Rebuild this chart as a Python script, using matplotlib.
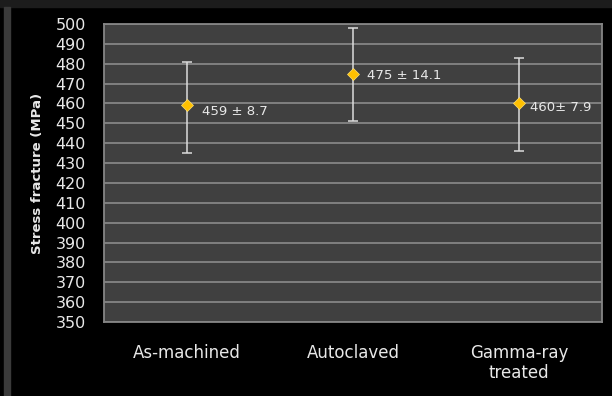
import numpy as np
import matplotlib.pyplot as plt
from matplotlib.patches import Rectangle

categories = ['As-machined', 'Autoclaved', 'Gamma-ray\ntreated']
means = [459, 475, 460]
err_low = [435, 451, 436]
err_high = [481, 498, 483]
labels = ['459 ± 8.7', '475 ± 14.1', '460± 7.9']
yticks = list(range(350, 501, 10))

txt = '#e8e8e8'
plt.rcParams['font.family'] = ['DejaVu Sans']

fig = plt.figure(figsize=(6.12, 3.96), dpi=100, facecolor='black')
# frame bits of the slide
fig.patches.append(Rectangle((0, 0.982), 1, 0.018, transform=fig.transFigure, color='#1c1c1c', zorder=-1))
fig.patches.append(Rectangle((0.006, 0), 0.011, 0.982, transform=fig.transFigure, color='#3a3a3a', zorder=-1))

ax = fig.add_axes([104/612, 1 - 322/396, (602-104)/612, (322-24)/396])
ax.set_facecolor('#404040')

x = np.arange(len(categories))
m = np.array(means)
yerr = [m - np.array(err_low), np.array(err_high) - m]
ax.errorbar(x, m, yerr=yerr, fmt='none', ecolor='#dcdcdc', elinewidth=1.1, capsize=3.5, capthick=1.1, zorder=3)
ax.plot(x, m, 'D', color='#ffc000', markersize=6, markeredgecolor='#ffe070', markeredgewidth=0.5, zorder=4)

offs = [(11, -4.5), (10, -1.5), (8, -3)]
for xi, yi, s, o in zip(x, means, labels, offs):
    ax.annotate(s, (xi, yi), xytext=o, textcoords='offset points', color=txt,
                fontsize=9.5, ha='left', va='center')

ax.set_xlim(-0.5, 2.5)
ax.set_ylim(350, 500)
ax.set_yticks(yticks)
ax.set_yticklabels([str(v) for v in yticks], fontsize=11.5, color=txt)
ax.set_xticks(x)
ax.set_xticklabels(categories, fontsize=12, color=txt, linespacing=1.1)
ax.tick_params(axis='y', length=0, pad=13)
ax.tick_params(axis='x', length=0, pad=16)
ax.grid(axis='y', color='#858585', linewidth=1.3)
ax.set_axisbelow(True)
for sp in ax.spines.values():
    sp.set_color('#858585')
    sp.set_linewidth(1.3)
ax.set_ylabel('Stress fracture (MPa)', fontsize=9.5, fontweight='bold', color=txt, labelpad=8)

fig.savefig('out.png', dpi=100, facecolor=fig.get_facecolor())
